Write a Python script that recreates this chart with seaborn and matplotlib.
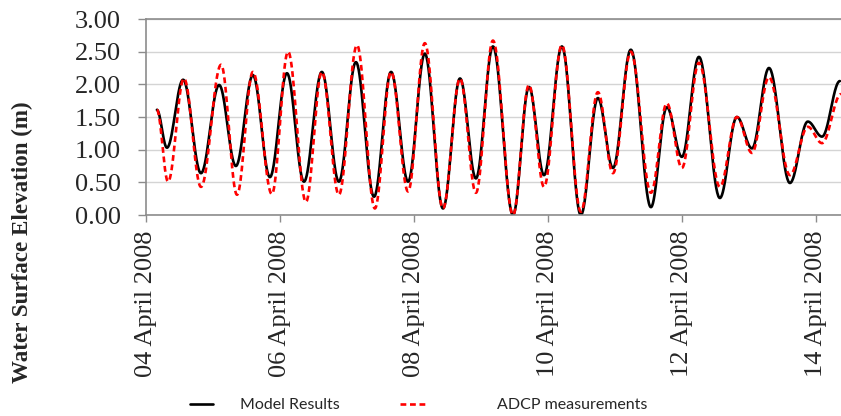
import numpy as np
import pandas as pd
import matplotlib
matplotlib.use("Agg")
import matplotlib.pyplot as plt
import matplotlib.dates as mdates
import seaborn as sns

# Reference time for the record
start = pd.Timestamp("2008-04-04 00:00")

# Turning points (hours after 04 April 2008 00:00, elevation in m)
model_hours = [3.9, 7.5, 13.3, 19.7, 26.2, 32.2, 38.3, 44.4, 50.5, 56.6, 63.0, 69.1,
               75.2, 81.7, 87.8, 93.9, 99.9, 106.4, 112.5, 118.2, 124.3, 131.5,
               137.2, 142.6, 149.0, 155.8, 161.9, 167.3, 173.7, 180.9, 186.6,
               192.0, 198.1, 205.6, 211.7, 217.1, 223.2, 230.7, 237.1, 242.2, 248.6]
model_elev = [1.61, 1.03, 2.07, 0.64, 1.99, 0.75, 2.14, 0.58, 2.17, 0.51, 2.19, 0.51,
              2.34, 0.28, 2.19, 0.51, 2.47, 0.10, 2.09, 0.56, 2.58, 0.00,
              1.96, 0.61, 2.58, 0.00, 1.79, 0.72, 2.53, 0.12, 1.65,
              0.89, 2.42, 0.26, 1.50, 1.02, 2.25, 0.49, 1.43, 1.20, 2.05]

adcp_hours = [3.9, 7.9, 13.6, 19.7, 26.9, 32.6, 38.3, 45.1, 50.9, 57.3, 63.0, 69.1,
              75.6, 82.0, 87.8, 93.9, 99.9, 106.4, 112.5, 118.2, 124.3, 131.5,
              137.2, 142.6, 149.0, 155.8, 161.9, 167.3, 173.7, 180.9, 186.6,
              192.0, 198.1, 205.6, 211.7, 217.1, 223.2, 230.7, 237.1, 242.2, 249.0]
adcp_elev = [1.61, 0.51, 2.09, 0.43, 2.30, 0.31, 2.19, 0.32, 2.50, 0.20, 2.19, 0.31,
             2.60, 0.10, 2.19, 0.36, 2.63, 0.10, 2.09, 0.34, 2.67, 0.00,
             1.99, 0.43, 2.60, 0.05, 1.88, 0.64, 2.50, 0.34, 1.71,
             0.72, 2.33, 0.43, 1.50, 0.95, 2.11, 0.61, 1.35, 1.10, 1.85]

y_ticks = [0.0, 0.5, 1.0, 1.5, 2.0, 2.5, 3.0]
x_ticks = pd.date_range("2008-04-04", "2008-04-14", freq="2D")
x_end_hours = 249.0


def tidal_curve(hours, elev, n=40):
    """Join successive high/low waters with half-cosine segments."""
    ts, vs = [], []
    for i in range(len(hours) - 1):
        s = np.linspace(0.0, 1.0, n, endpoint=False)
        ts.append(hours[i] + s * (hours[i + 1] - hours[i]))
        vs.append(elev[i] + (elev[i + 1] - elev[i]) * (1 - np.cos(np.pi * s)) / 2)
    ts.append([hours[-1]])
    vs.append([elev[-1]])
    t = np.concatenate(ts)
    return pd.DataFrame({"time": start + pd.to_timedelta(t, unit="h"),
                         "elevation": np.concatenate(vs)})


model_df = tidal_curve(model_hours, model_elev)
adcp_df = tidal_curve(adcp_hours, adcp_elev)

sns.set_style("white")
plt.rcParams["font.family"] = ["Liberation Serif", "DejaVu Serif"]

W, H = 841, 416
fig = plt.figure(figsize=(W / 100, H / 100), dpi=100)
ax = fig.add_axes([146 / W, 1 - 215 / H, 1 - 146 / W, 196 / H])

sns.lineplot(data=model_df, x="time", y="elevation", color="black",
             linewidth=1.9, ax=ax, sort=False)
sns.lineplot(data=adcp_df, x="time", y="elevation", color="#ff0000",
             linewidth=1.9, ax=ax, sort=False)
model_line, adcp_line = ax.lines[0], ax.lines[1]
adcp_line.set_dashes((2.2, 1.4))

ax.set_ylim(0, 3.0)
ax.set_xlim(start, start + pd.Timedelta(hours=x_end_hours))
ax.set_yticks(y_ticks)
ax.set_yticklabels([f"{v:.2f}" for v in y_ticks])
ax.set_xticks(x_ticks)
ax.xaxis.set_major_formatter(mdates.DateFormatter("%d April %Y"))
ax.set_xlabel("")
ax.set_ylabel("")

ax.yaxis.grid(True, color="#d4d4d4", linewidth=1.0)
ax.xaxis.grid(False)
for side in ("left", "top", "bottom"):
    ax.spines[side].set_visible(True)
    ax.spines[side].set_color("#8c8c8c")
    ax.spines[side].set_linewidth(1.2)
ax.spines["right"].set_visible(False)

ax.tick_params(axis="y", which="major", direction="out", length=6, width=1.0,
               color="#8c8c8c", pad=12, labelsize=19, left=True)
ax.tick_params(axis="x", which="major", direction="out", length=5, width=1.0,
               color="#8c8c8c", pad=6, labelsize=19, labelrotation=90, bottom=True)

fig.text(22 / W, 1 - 242 / H, "Water Surface Elevation (m)", rotation=90,
         ha="center", va="center", fontsize=16.6, fontweight="bold")

legend_font = {"family": ["Lato", "DejaVu Sans"], "size": 11.5}
fig.legend([model_line], ["Model Results"], loc="center left",
           bbox_to_anchor=(190 / W, 1 - 405 / H), frameon=False,
           borderpad=0, borderaxespad=0, handlelength=1.45,
           handletextpad=1.65, prop=legend_font)
fig.legend([adcp_line], ["ADCP measurements"], loc="center left",
           bbox_to_anchor=(400 / W, 1 - 405 / H), frameon=False,
           borderpad=0, borderaxespad=0, handlelength=1.55,
           handletextpad=4.5, prop=legend_font)

fig.savefig("out.png", dpi=100)
